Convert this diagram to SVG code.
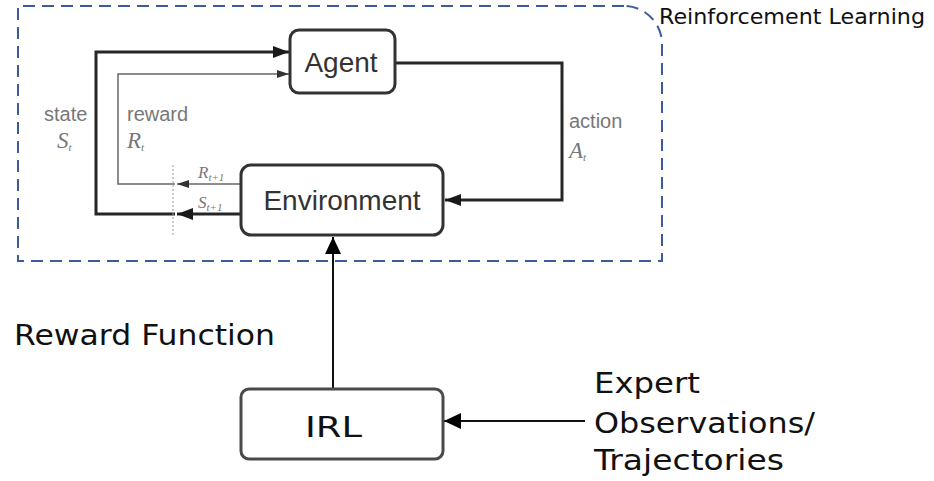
<svg xmlns="http://www.w3.org/2000/svg" width="934" height="481" viewBox="0 0 934 481">
  <style>
    .box { fill: #ffffff; stroke: #333333; stroke-width: 3; }
    .box-irl { fill: #ffffff; stroke: #4a4a4a; stroke-width: 3; }
    .frame { fill: none; stroke: #3b5b9b; stroke-width: 2; stroke-dasharray: 12 7; }
    .thick { fill: none; stroke: #262626; stroke-width: 3; }
    .thin { fill: none; stroke: #666666; stroke-width: 1.5; }
    .plain { fill: none; stroke: #111111; stroke-width: 2; }
    .divider { fill: none; stroke: #9a9a9a; stroke-width: 1; stroke-dasharray: 2 2; }
    .node-label { font-family: "Liberation Sans", Arial, sans-serif; font-size: 28px; fill: #333333; text-anchor: middle; }
    .flow-label { font-family: "Liberation Sans", Arial, sans-serif; font-size: 20px; fill: #777777; }
    .sym { font-family: "Liberation Serif", "Times New Roman", serif; font-style: italic; font-size: 23px; fill: #777777; }
    .sym-small { font-family: "Liberation Serif", "Times New Roman", serif; font-style: italic; font-size: 17px; fill: #777777; }
    .sub { font-size: 11px; }
    .caption { font-family: "DejaVu Sans", Verdana, sans-serif; font-size: 29px; fill: #111111; }
    .title { font-family: "DejaVu Sans", Verdana, sans-serif; font-size: 22px; fill: #111111; }
  </style>
  <defs>
    <marker id="head-big" markerUnits="userSpaceOnUse" markerWidth="16" markerHeight="12" refX="16" refY="6" orient="auto">
      <path d="M0,0 L16,6 L0,12 Z" fill="#1a1a1a"/>
    </marker>
    <marker id="head-small" markerUnits="userSpaceOnUse" markerWidth="12" markerHeight="8" refX="12" refY="4" orient="auto">
      <path d="M0,0 L12,4 L0,8 Z" fill="#333333"/>
    </marker>
    <marker id="head-black" markerUnits="userSpaceOnUse" markerWidth="17" markerHeight="16" refX="17" refY="8" orient="auto">
      <path d="M0,0 L17,8 L0,16 Z" fill="#000000"/>
    </marker>
  </defs>

  <!-- Reinforcement learning frame -->
  <g id="rl-frame">
    <path class="frame" d="M624,6 H18 V261 H662 V44 A38,38 0 0 0 624,6"/>
    <text class="title" x="659" y="24" textLength="266" lengthAdjust="spacingAndGlyphs">Reinforcement Learning</text>
  </g>

  <!-- Connectors -->
  <g id="connectors">
    <!-- state S(t+1) back to the agent -->
    <path class="thick" d="M241,214 H177" marker-end="url(#head-big)"/>
    <path class="thick" d="M175,214 H96 V52 H289" marker-end="url(#head-big)"/>
    <!-- reward R(t+1) back to the agent -->
    <path class="thin" d="M241,184 H177" marker-end="url(#head-small)"/>
    <path class="thin" d="M175,184 H118 V74 H289" marker-end="url(#head-small)"/>
    <!-- action from agent to environment -->
    <path class="thick" d="M395,63 H562 V200 H445" marker-end="url(#head-big)"/>
    <!-- time-step divider -->
    <line class="divider" x1="173" y1="165" x2="173" y2="236"/>
    <!-- IRL feeds the reward function to the environment -->
    <path class="plain" d="M333,388 V237" marker-end="url(#head-black)"/>
    <!-- expert data into IRL -->
    <path class="plain" d="M585,421 H444" marker-end="url(#head-black)"/>

    <text class="flow-label" x="44" y="121">state</text>
    <text class="sym" x="57" y="148">S<tspan class="sub" dy="3">t</tspan></text>
    <text class="flow-label" x="127" y="121">reward</text>
    <text class="sym" x="127" y="148">R<tspan class="sub" dy="3">t</tspan></text>
    <text class="flow-label" x="569" y="128">action</text>
    <text class="sym" x="569" y="158">A<tspan class="sub" dy="3">t</tspan></text>
    <text class="sym-small" x="198" y="178">R<tspan class="sub" dy="3">t+1</tspan></text>
    <text class="sym-small" x="198" y="208">S<tspan class="sub" dy="3">t+1</tspan></text>

    <text class="caption" x="14" y="345" textLength="261" lengthAdjust="spacingAndGlyphs">Reward Function</text>
  </g>

  <g id="agent">
    <rect class="box" x="290" y="30" width="105" height="63" rx="9"/>
    <text class="node-label" x="341" y="72">Agent</text>
  </g>

  <g id="environment">
    <rect class="box" x="241" y="165" width="202" height="70" rx="10"/>
    <text class="node-label" x="342" y="210">Environment</text>
  </g>

  <g id="irl">
    <rect class="box-irl" x="241" y="389" width="202" height="70" rx="8"/>
    <text class="caption" x="305" y="437" textLength="57" lengthAdjust="spacingAndGlyphs">IRL</text>
  </g>

  <g id="expert-data">
    <text class="caption" x="594" y="393" textLength="106" lengthAdjust="spacingAndGlyphs">Expert</text>
    <text class="caption" x="594" y="433" textLength="221" lengthAdjust="spacingAndGlyphs">Observations/</text>
    <text class="caption" x="594" y="470" textLength="190" lengthAdjust="spacingAndGlyphs">Trajectories</text>
  </g>
</svg>
